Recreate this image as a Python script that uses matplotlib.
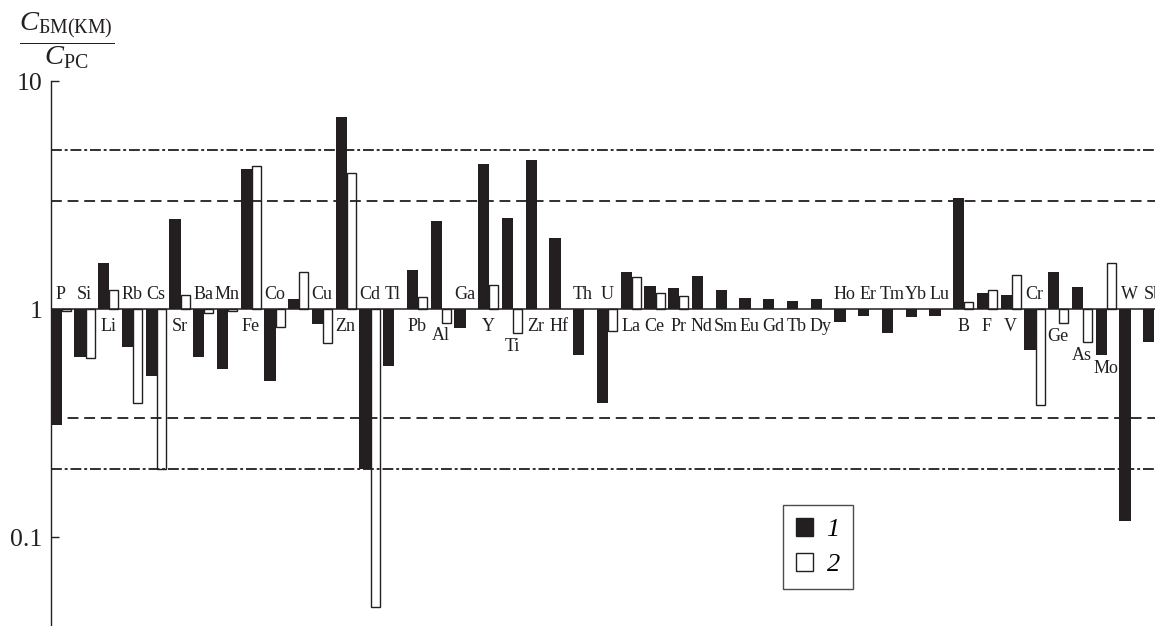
import numpy as np
import matplotlib
matplotlib.use("Agg")
import matplotlib.pyplot as plt
from matplotlib.patches import Patch

plt.rcParams['font.family'] = ['Liberation Serif', 'DejaVu Serif']
plt.rcParams['mathtext.fontset'] = 'custom'
plt.rcParams['mathtext.rm'] = 'Liberation Serif'
plt.rcParams['mathtext.it'] = 'Liberation Serif:italic'

nan = np.nan
elements = ["P", "Si", "Li", "Rb", "Cs", "Sr", "Ba", "Mn", "Fe", "Co", "", "Cu",
            "Zn", "Cd", "Tl", "Pb", "Al", "Ga", "Y", "Ti", "Zr", "Hf", "Th", "U",
            "La", "Ce", "Pr", "Nd", "Sm", "Eu", "Gd", "Tb", "Dy", "Ho", "Er", "Tm",
            "Yb", "Lu", "B", "F", "V", "Cr", "Ge", "As", "Mo", "W", "Sb"]
# series 1 (black bars)
ratio_1 = [0.31, 0.62, 1.59, 0.686, 0.51, 2.5, 0.62, 0.545, 4.11, 0.485, 1.106, 0.86,
           7.0, 0.199, 0.564, 1.49, 2.45, 0.826, 4.32, 2.51, 4.52, 2.05, 0.63, 0.39,
           1.46, 1.27, 1.24, 1.40, 1.22, 1.12, 1.106, 1.087, 1.106, 0.877, 0.937, 0.785,
           0.923, 0.937, 3.09, 1.18, 1.16, 0.663, 1.46, 1.25, 0.63, 0.118, 0.72]
# series 2 (white bars), nan = no bar
ratio_2 = [0.98, 0.61, 1.22, 0.39, 0.2, 1.16, 0.966, 0.985, 4.25, 0.84, 1.46, 0.71,
           3.95, 0.0496, nan, 1.136, 0.874, nan, 1.28, 0.785, nan, nan, nan, 0.80,
           1.39, 1.175, 1.14, nan, nan, nan, nan, nan, nan, nan, nan, nan,
           nan, nan, 1.08, 1.21, 1.41, 0.38, 0.868, 0.72, 1.59, nan, nan]
ref_lines_dashed = [3, 1 / 3]
ref_lines_dashdot = [5, 0.2]
legend_labels = ["1", "2"]

ink = '#231f20'
fig = plt.figure(figsize=(11.55, 6.26), dpi=100)
ax = fig.add_axes([50.7 / 1155, 0, 1 - 50.7 / 1155, 1 - 81.3 / 626])

x = np.arange(len(elements))
v1 = np.array(ratio_1)
v2 = np.array(ratio_2)
bw1, bw2 = 0.47, 0.38

ax.bar(x, v1 - 1, bottom=1, width=bw1, align='edge', color=ink, linewidth=0, zorder=2)
m = ~np.isnan(v2)
ax.bar(x[m] + bw1, v2[m] - 1, bottom=1, width=bw2, align='edge', facecolor='white',
       edgecolor=ink, linewidth=1.0, zorder=2)

ax.set_yscale('log')
ax.set_ylim(10 ** (-(626 - 309.3) / 228), 10)
ax.set_xlim(0, 46.5)

ax.axhline(1, color=ink, lw=1.1, zorder=3)
for y in ref_lines_dashed:
    ax.axhline(y, color=ink, lw=1.3, ls=(0, (6, 3.2)), zorder=3)
for y in ref_lines_dashdot:
    ax.axhline(y, color=ink, lw=1.3, ls=(0, (6, 1.6, 1.6, 1.6)), zorder=3)

# element labels
for i, name in enumerate(elements):
    if not name:
        continue
    a, b = v1[i], v2[i]
    vals = [a] if np.isnan(b) else [a, b]
    xc = i + 0.42
    if max(vals) > 1:
        low = min(vals)
        if low < 1:
            ax.annotate(name, (xc, low), xytext=(0, -9.5), textcoords='offset points',
                        ha='center', va='center', fontsize=13, color=ink)
        else:
            ax.annotate(name, (xc, 1), xytext=(0, -12.2), textcoords='offset points',
                        ha='center', va='center', fontsize=13, color=ink)
    else:
        ax.annotate(name, (xc, 1), xytext=(0, 10.3), textcoords='offset points',
                    ha='center', va='center', fontsize=13, color=ink)

for s in ['top', 'right', 'bottom']:
    ax.spines[s].set_visible(False)
ax.spines['left'].set_color(ink)
ax.spines['left'].set_linewidth(1.0)
ax.set_xticks([])
ax.yaxis.set_minor_locator(matplotlib.ticker.NullLocator())
ax.set_yticks([0.1, 1, 10])
ax.set_yticklabels(['0.1', '1', '10'])
ax.tick_params(axis='y', direction='in', length=6, width=1.0, color=ink,
               labelsize=18.5, pad=6, labelcolor=ink)

fig.text(0.058, 0.936, r'$\dfrac{C_{\mathrm{БМ(КМ)}}}{C_{\mathrm{РС}}}$',
         ha='center', va='center', fontsize=20.5, color=ink)

handles = [Patch(facecolor=ink, edgecolor=ink), Patch(facecolor='white', edgecolor=ink)]
leg = fig.legend(handles, legend_labels, loc='center',
                 bbox_to_anchor=(818 / 1155, 1 - 547 / 626),
                 prop={'style': 'italic', 'size': 19}, frameon=True, fancybox=False,
                 handlelength=0.65, handleheight=0.65, handletextpad=0.5,
                 labelspacing=0.45, borderpad=0.5, borderaxespad=0)
leg.get_frame().set_edgecolor(ink)
leg.get_frame().set_linewidth(1.0)

fig.savefig('out.png', dpi=100)
